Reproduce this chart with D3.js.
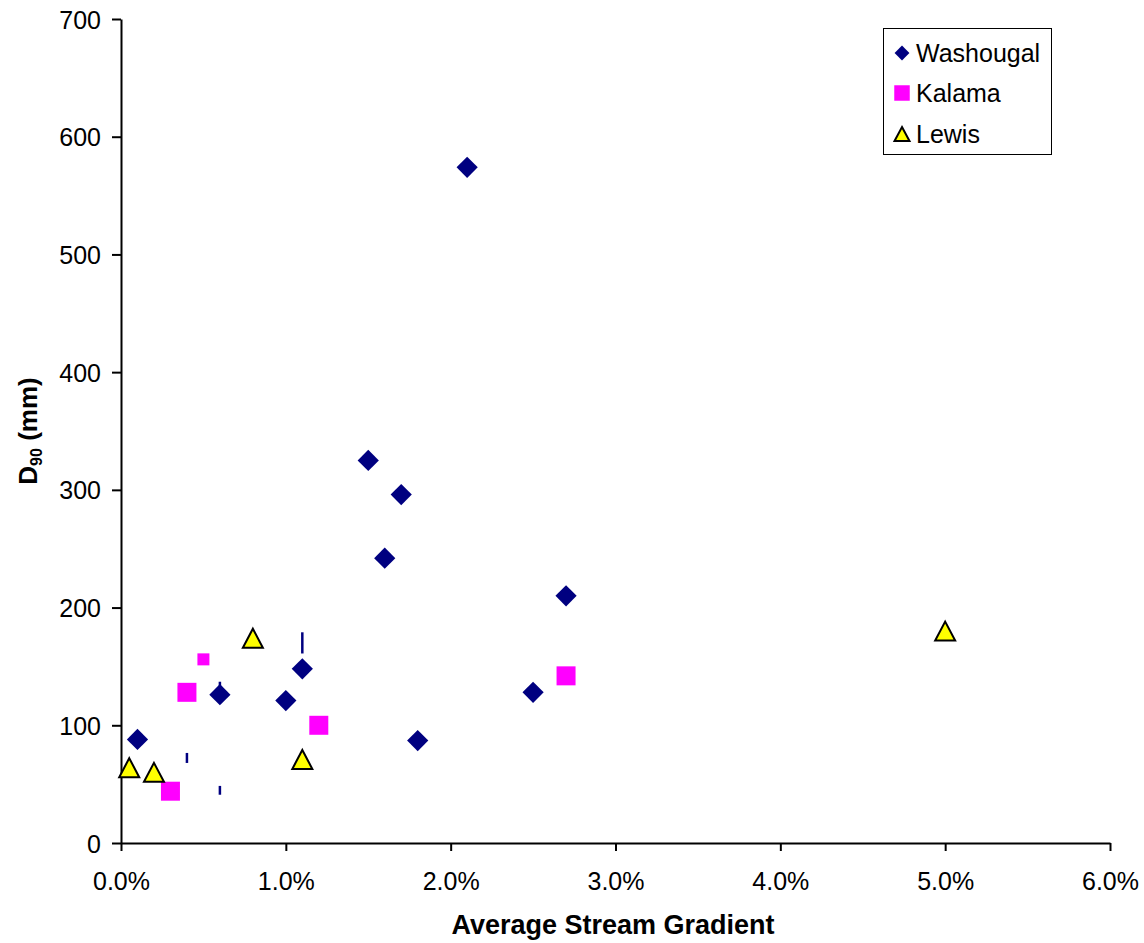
<!DOCTYPE html>
<html><head><meta charset="utf-8">
<script src="https://cdn.jsdelivr.net/npm/d3@7/dist/d3.min.js"></script>
<style>body{margin:0;background:#fff}svg{display:block}text{font-family:Arial,"Liberation Sans",sans-serif}</style>
</head><body><svg id="c" width="1144" height="943"></svg>
<script>
const xTicks = [0, 0.01, 0.02, 0.03, 0.04, 0.05, 0.06];
const yTicks = [0, 100, 200, 300, 400, 500, 600, 700];
const seriesNames = ["Washougal", "Kalama", "Lewis"];
const washougal = [[0.001,88],[0.006,126],[0.010,121],[0.011,148],[0.015,325],[0.016,242],[0.017,296],[0.018,87],[0.021,574],[0.025,128],[0.027,210]];
const kalama = [[0.003,44],[0.004,128],[0.012,100],[0.027,142]];
const kalamaMinor = [[0.005,156]];
const lewis = [[0.0005,64],[0.002,60],[0.008,174],[0.011,71],[0.050,180]];
// small navy dash artifacts: [x, yLow, yHigh]
const washougalDashes = [[0.004,68,76.5],[0.006,41,48.5],[0.011,161,179],[0.006,133,137]];

const svg = d3.select("#c");
const x = d3.scaleLinear().domain([0,0.06]).range([121,1110]);
const y = d3.scaleLinear().domain([0,700]).range([843,19]);

const g = svg.append("g");
const xAxis = d3.axisBottom(x).tickValues(xTicks).tickFormat(d3.format(".1%")).tickSize(8).tickSizeOuter(0);
const yAxis = d3.axisLeft(y).tickValues(yTicks).tickSize(9).tickSizeOuter(0);
const gx = g.append("g").attr("transform","translate(0,843)").call(xAxis);
const gy = g.append("g").attr("transform","translate(121,0)").call(yAxis);
[gx,gy].forEach(a=>{
  a.selectAll("path.domain").attr("stroke","#000").attr("stroke-width",2);
  a.selectAll(".tick line").attr("stroke","#000").attr("stroke-width",2);
  a.selectAll(".tick text").attr("font-size",25).attr("fill","#000").attr("font-family","Arial, 'Liberation Sans', sans-serif");
});
gx.selectAll(".tick text").attr("y",47).attr("dy",0);
gy.selectAll(".tick text").attr("x",-20).attr("dy","0.36em");

// axis titles
svg.append("text").attr("x",613).attr("y",934).attr("text-anchor","middle")
  .attr("font-size",27).attr("font-weight","bold").text("Average Stream Gradient");
const yt = svg.append("text").attr("transform","translate(37,431) rotate(-90)").attr("text-anchor","middle")
  .attr("font-size",26).attr("font-weight","bold");
yt.append("tspan").text("D");
yt.append("tspan").attr("font-size",16).attr("dy",5).text("90");
yt.append("tspan").attr("dy",-5).text(" (mm)");

const navy = "#000080", magenta = "#FF00FF", yellow = "#FFFF00";
const diamond = d3.symbol().type(d3.symbolSquare).size(225)();
const square = d3.symbol().type(d3.symbolSquare).size(361)();
const squareSmall = d3.symbol().type(d3.symbolSquare).size(144)();
function triPath(w,h){const p=d3.path();p.moveTo(0,-h/2);p.lineTo(w/2,h/2);p.lineTo(-w/2,h/2);p.closePath();return p.toString();}

svg.append("g").selectAll("line").data(washougalDashes).join("line")
  .attr("x1",d=>x(d[0])).attr("x2",d=>x(d[0])).attr("y1",d=>y(d[1])).attr("y2",d=>y(d[2]))
  .attr("stroke",navy).attr("stroke-width",2.5);

svg.append("g").selectAll("path").data(washougal).join("path")
  .attr("d",diamond).attr("transform",d=>`translate(${x(d[0])},${y(d[1])}) rotate(45)`).attr("fill",navy);
svg.append("g").selectAll("path").data(kalama).join("path")
  .attr("d",square).attr("transform",d=>`translate(${x(d[0])},${y(d[1])})`).attr("fill",magenta);
svg.append("g").selectAll("path").data(kalamaMinor).join("path")
  .attr("d",squareSmall).attr("transform",d=>`translate(${x(d[0])},${y(d[1])})`).attr("fill",magenta);
svg.append("g").selectAll("path").data(lewis).join("path")
  .attr("d",triPath(20,19)).attr("transform",d=>`translate(${x(d[0])},${y(d[1])})`)
  .attr("fill",yellow).attr("stroke","#000").attr("stroke-width",2).attr("stroke-linejoin","miter");

// legend
const lg = svg.append("g");
lg.append("rect").attr("x",883.5).attr("y",28.5).attr("width",168).attr("height",126)
  .attr("fill","#fff").attr("stroke","#000").attr("stroke-width",1);
const rows = [53,93,134];
const legendShapes = [
  s=>s.append("path").attr("d",d3.symbol().type(d3.symbolSquare).size(110)()).attr("transform","rotate(45)").attr("fill",navy),
  s=>s.append("path").attr("d",d3.symbol().type(d3.symbolSquare).size(240)()).attr("fill",magenta),
  s=>s.append("path").attr("d",triPath(15,14)).attr("fill",yellow).attr("stroke","#000").attr("stroke-width",2)
];
seriesNames.forEach((n,i)=>{
  const r = lg.append("g").attr("transform",`translate(902,${rows[i]})`);
  legendShapes[i](r);
  lg.append("text").attr("x",916).attr("y",rows[i]).attr("dy","0.36em").attr("font-size",25).text(n);
});
</script></body></html>
